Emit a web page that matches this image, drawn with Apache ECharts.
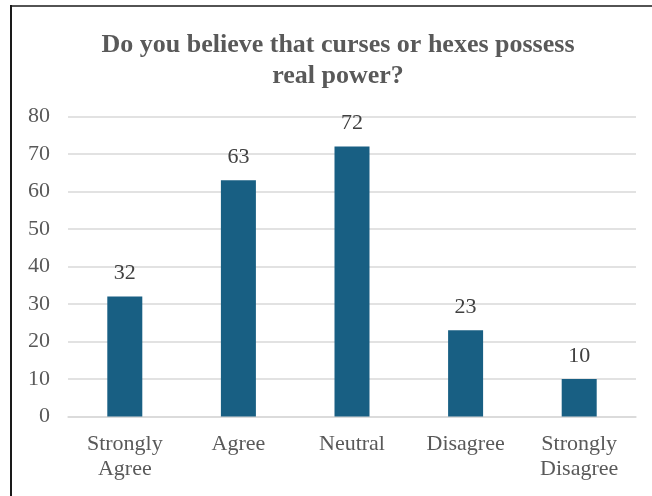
<!DOCTYPE html>
<html>
<head>
<meta charset="utf-8">
<script src="https://cdn.jsdelivr.net/npm/echarts@6/dist/echarts.min.js"></script>
<style>
  html, body { margin: 0; padding: 0; background: #fff; }
  #chart { width: 652px; height: 496px; }
</style>
</head>
<body>
<div id="chart"></div>
<script>
// Survey responses
const categories = ['Strongly\nAgree', 'Agree', 'Neutral', 'Disagree', 'Strongly\nDisagree'];
const responses = [32, 63, 72, 23, 10];
const yTicks = { min: 0, max: 80, interval: 10 };

const serif = '"Liberation Serif", "Times New Roman", serif';
const textGray = '#595959';
const gridGray = '#d9d9d9';
const barBlue = '#185f83';

const chart = echarts.init(document.getElementById('chart'), null, { renderer: 'canvas' });

chart.setOption({
  backgroundColor: '#ffffff',
  animation: false,
  title: {
    text: 'Do you believe that curses or hexes possess\nreal power?',
    left: 333,
    top: 25,
    textAlign: 'center',
    textStyle: {
      fontFamily: serif,
      fontSize: 26,
      fontWeight: 'bold',
      color: textGray,
      lineHeight: 31
    }
  },
  graphic: [
    { type: 'line', shape: { x1: 11, y1: 5, x2: 11, y2: 496 }, style: { stroke: '#1a1a1a', lineWidth: 2 } },
    { type: 'line', shape: { x1: 10, y1: 6, x2: 652, y2: 6 }, style: { stroke: '#1a1a1a', lineWidth: 1.5 } }
  ],
  grid: { left: 68, right: 16, top: 116.5, bottom: 79.5, containLabel: false },
  xAxis: {
    type: 'category',
    data: categories,
    axisLine: { lineStyle: { color: gridGray, width: 1.5 } },
    axisTick: { show: false },
    axisLabel: {
      fontFamily: serif,
      fontSize: 22,
      color: textGray,
      lineHeight: 25,
      margin: 15,
      interval: 0
    }
  },
  yAxis: {
    type: 'value',
    min: yTicks.min,
    max: yTicks.max,
    interval: yTicks.interval,
    axisLine: { show: false },
    axisTick: { show: false },
    axisLabel: { fontFamily: serif, fontSize: 22, color: textGray, margin: 18 },
    splitLine: { lineStyle: { color: gridGray, width: 1.5 } }
  },
  series: [
    {
      type: 'bar',
      data: responses,
      barWidth: 35,
      itemStyle: { color: barBlue },
      label: {
        show: true,
        position: 'top',
        distance: 12,
        fontFamily: serif,
        fontSize: 22,
        color: '#404040'
      }
    }
  ]
});
</script>
</body>
</html>
